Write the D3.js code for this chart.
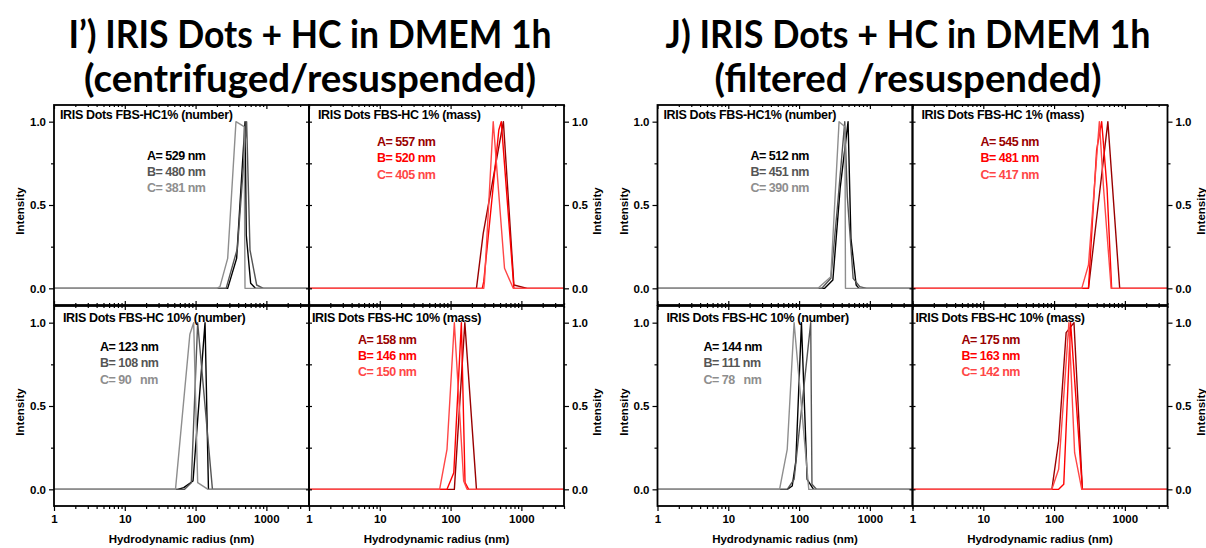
<!DOCTYPE html>
<html>
<head>
<meta charset="utf-8">
<script src="https://cdn.jsdelivr.net/npm/d3@7"></script>
<style>
  body { margin: 0; background: #fff; }
  svg { display: block; }
  .txt { font-family: "Liberation Sans", Arial, sans-serif; font-weight: bold; }
  .big { font-family: Lato, "Open Sans", sans-serif; font-weight: 700; }
</style>
</head>
<body>
<svg id="chart" width="1206" height="548"></svg>
<script>
// ---- axis settings ----
const xDomain = [1, 4000];
const yDomain = [-0.1, 1.1];
const xTicks = [1, 10, 100, 1000];
const xTickLabels = ["1", "10", "100", "1000"];
const yTicks = [0, 0.5, 1.0];
const yMinorTicks = [0.25, 0.75];

// ---- text ----
const titleLinesI = ["I\u2019) IRIS Dots + HC in DMEM 1h", "(centrifuged/resuspended)"];
const titleLinesJ = ["J) IRIS Dots + HC in DMEM 1h", "(filtered /resuspended)"];
const panelTitles = [
  "IRIS Dots FBS-HC1% (number)",
  "IRIS Dots FBS-HC 1% (mass)",
  "IRIS Dots FBS-HC 10% (number)",
  "IRIS Dots FBS-HC 10% (mass)"
];
const seriesKeys = ["A", "B", "C"];
const numberColors = ["#000000", "#555555", "#8e8e8e"];
const massColors = ["#990000", "#ff0000", "#ff4646"];

// mean hydrodynamic radius of each sample (nm)
const sizesCentHC1Number = [529, 480, 381];
const sizesCentHC1Mass = [557, 520, 405];
const sizesCentHC10Number = [123, 108, 90];
const sizesCentHC10Mass = [158, 146, 150];
const sizesFiltHC1Number = [512, 451, 390];
const sizesFiltHC1Mass = [545, 481, 417];
const sizesFiltHC10Number = [144, 111, 78];
const sizesFiltHC10Mass = [175, 163, 142];

// ---- size distributions: [radius nm, normalised intensity] for samples A, B, C ----
const centHC1Number = [
  [[1,0],[284,0],[380,0.18],[500,1.0],[520,0.32],[600,0.03],[700,0],[4000,0]],
  [[1,0],[270,0],[390,0.24],[526,1.0],[587,0.23],[729,0.02],[905,0],[4000,0]],
  [[1,0],[199,0],[221,0.01],[284,0.18],[372,1.0],[485,0.97],[499,0],[4000,0]]
];
const centHC1Mass = [
  [[1,0],[232,0],[289,0.33],[557,1.0],[784,0.02],[1211,0],[4000,0]],
  [[1,0],[280,0],[294,0.04],[480,0.95],[520,1.0],[784,0],[4000,0]],
  [[1,0],[294,0],[301,0.04],[400,1.0],[578,0.12],[767,0],[4000,0]]
];
const centHC10Number = [
  [[1,0],[56,0],[68,0.01],[92,0.05],[136,1.0],[152,0],[4000,0]],
  [[1,0],[70,0],[87,0.04],[107,1.0],[173,0],[4000,0]],
  [[1,0],[52,0],[83,0.93],[94,1.0],[107,0.04],[150,0],[4000,0]]
];
const centHC10Mass = [
  [[1,0],[113,0],[159,1.0],[232,0],[4000,0]],
  [[1,0],[89,0],[111,0.1],[142,1.0],[160,0.04],[180,0],[4000,0]],
  [[1,0],[70,0],[89,0.24],[113,1.0],[153,0.05],[171,0],[4000,0]]
];
const filtHC1Number = [
  [[1,0],[230,0],[300,0.05],[380,0.6],[492,1.0],[540,0.3],[640,0.02],[700,0],[4000,0]],
  [[1,0],[210,0],[281,0.06],[350,0.5],[442,1.0],[480,0.55],[580,0.06],[720,0.01],[895,0],[4000,0]],
  [[1,0],[185,0],[281,0.07],[367,1.0],[445,0.97],[452,0],[4000,0]]
];
const filtHC1Mass = [
  [[1,0],[306,0],[575,1.0],[845,0],[4000,0]],
  [[1,0],[306,0],[399,0.83],[470,1.0],[560,0.6],[650,0],[4000,0]],
  [[1,0],[246,0],[306,0.14],[436,1.0],[500,0.6],[640,0],[4000,0]]
];
const filtHC10Number = [
  [[1,0],[68,0],[80,0.02],[90,0.17],[108,1.0],[130,0.06],[160,0],[4000,0]],
  [[1,0],[68,0],[85,0.06],[146,1.0],[152,0.03],[176,0],[4000,0]],
  [[1,0],[53,0],[68,0.24],[85,1.0],[137,0],[4000,0]]
];
const filtHC10Mass = [
  [[1,0],[93,0],[116,0.29],[148,0.94],[191,1.0],[251,0],[4000,0]],
  [[1,0],[116,0],[137,0.03],[171,1.0],[251,0],[4000,0]],
  [[1,0],[93,0],[116,0.12],[162,1.0],[195,0.22],[246,0],[4000,0]]
];

// ---- layout ----
const svg = d3.select("#chart");
const panelW = 255;
const rowTop = [105, 306];
const panelH = 200;

// per panel position: [row, col]; text offsets inside each panel
const panelSlots = [
  { row: 0, col: 0, titleDx: 6,  annDx: 93, annY: [160, 176, 192] },
  { row: 0, col: 1, titleDx: 9,  annDx: 68, annY: [146, 162, 179] },
  { row: 1, col: 0, titleDx: 9,  annDx: 46, annY: [351, 367, 384] },
  { row: 1, col: 1, titleDx: 3,  annDx: 49, annY: [344, 360, 376] }
];

const blocks = [
  { x0: 54, titles: titleLinesI, titleCx: 310, titleW: [483, 452],
    curves: [centHC1Number, centHC1Mass, centHC10Number, centHC10Mass],
    sizes: [sizesCentHC1Number, sizesCentHC1Mass, sizesCentHC10Number, sizesCentHC10Mass] },
  { x0: 657.5, titles: titleLinesJ, titleCx: 908, titleW: [485, 387],
    curves: [filtHC1Number, filtHC1Mass, filtHC10Number, filtHC10Mass],
    sizes: [sizesFiltHC1Number, sizesFiltHC1Mass, sizesFiltHC10Number, sizesFiltHC10Mass] }
];

const minorX = [];
for (let k = 0; k < 4; k++) for (let m = 2; m <= 9; m++) {
  const v = m * Math.pow(10, k);
  if (v <= xDomain[1]) minorX.push(v);
}

function styleAxis(g) {
  g.select(".domain").remove();
  g.selectAll(".tick line").attr("stroke", "#000").attr("stroke-width", 1.2);
  g.selectAll(".tick text")
    .attr("class", "txt")
    .attr("font-size", 11.5)
    .attr("fill", "#000");
  g.attr("font-family", null).attr("font-size", null);
}

blocks.forEach((block, bi) => {
  const bg = svg.append("g");

  // block heading
  block.titles.forEach((line, li) => {
    bg.append("text")
      .attr("class", "big")
      .attr("x", block.titleCx)
      .attr("y", li === 0 ? 48 : 92)
      .attr("text-anchor", "middle")
      .attr("font-size", 39)
      .attr("textLength", block.titleW[li])
      .attr("lengthAdjust", "spacingAndGlyphs")
      .text(line);
  });

  panelSlots.forEach((slot, pi) => {
    const px = block.x0 + slot.col * panelW;
    const py = rowTop[slot.row];
    const isMass = slot.col === 1;
    const colors = isMass ? massColors : numberColors;

    const x = d3.scaleLog().domain(xDomain).range([px, px + panelW]);
    const y = d3.scaleLinear().domain(yDomain).range([py + panelH, py]);

    const g = bg.append("g");
    const clipId = `clip-${bi}-${pi}`;
    g.append("clipPath").attr("id", clipId)
      .append("rect").attr("x", px).attr("y", py).attr("width", panelW).attr("height", panelH);

    // distribution curves
    const line = d3.line().x(d => x(d[0])).y(d => y(d[1]));
    g.append("g").attr("clip-path", `url(#${clipId})`)
      .selectAll("path")
      .data(block.curves[pi])
      .join("path")
      .attr("d", line)
      .attr("fill", "none")
      .attr("stroke", (d, i) => colors[i])
      .attr("stroke-width", 1.4)
      .attr("stroke-linejoin", "round");

    // frame
    g.append("rect")
      .attr("x", px).attr("y", py).attr("width", panelW).attr("height", panelH)
      .attr("fill", "none").attr("stroke", "#000").attr("stroke-width", 1.8);

    // y axes: labelled side outward, opposite side with inward ticks
    const labelledLeft = slot.col === 0;
    const yMain = (labelledLeft ? d3.axisLeft(y) : d3.axisRight(y))
      .tickValues(yTicks).tickSize(5).tickPadding(3).tickFormat(d3.format(".1f"));
    const yMinor = (labelledLeft ? d3.axisLeft(y) : d3.axisRight(y))
      .tickValues(yMinorTicks).tickSize(3).tickFormat("");
    const yEdge = labelledLeft ? px : px + panelW;
    g.append("g").attr("transform", `translate(${yEdge},0)`).call(yMain).call(styleAxis);
    g.append("g").attr("transform", `translate(${yEdge},0)`).call(yMinor).call(styleAxis);
    const mirrorEdge = labelledLeft ? px + panelW : px;
    const yMirror = (labelledLeft ? d3.axisRight(y) : d3.axisLeft(y))
      .tickValues(yTicks.concat(yMinorTicks)).tickSize(-3).tickFormat("");
    g.append("g").attr("transform", `translate(${mirrorEdge},0)`).call(yMirror).call(styleAxis);

    // x axes
    const isBottom = slot.row === 1;
    const xMain = d3.axisBottom(x).tickValues(xTicks)
      .tickSize(isBottom ? 5 : -4).tickPadding(4)
      .tickFormat((d, i) => isBottom ? xTickLabels[i] : "");
    const xMinor = d3.axisBottom(x).tickValues(minorX)
      .tickSize(isBottom ? 3 : -2).tickFormat("");
    g.append("g").attr("transform", `translate(0,${py + panelH})`).call(xMain).call(styleAxis);
    g.append("g").attr("transform", `translate(0,${py + panelH})`).call(xMinor).call(styleAxis);
    const xTop = d3.axisTop(x).tickValues(xTicks).tickSize(-4).tickFormat("");
    const xTopMinor = d3.axisTop(x).tickValues(minorX).tickSize(-2).tickFormat("");
    g.append("g").attr("transform", `translate(0,${py})`).call(xTop).call(styleAxis);
    g.append("g").attr("transform", `translate(0,${py})`).call(xTopMinor).call(styleAxis);

    // axis titles
    const yLabelX = labelledLeft ? px - 30 : px + panelW + 37;
    const yLabelY = py + panelH / 2 + 6;
    g.append("text").attr("class", "txt")
      .attr("transform", `translate(${yLabelX},${yLabelY}) rotate(-90)`)
      .attr("text-anchor", "middle").attr("font-size", 11.5)
      .text("Intensity");
    if (isBottom) {
      g.append("text").attr("class", "txt")
        .attr("x", px + panelW / 2).attr("y", 543)
        .attr("text-anchor", "middle").attr("font-size", 11.5)
        .text("Hydrodynamic radius (nm)");
    }

    // panel title
    g.append("text").attr("class", "txt")
      .attr("x", px + slot.titleDx).attr("y", py + 14 + (isBottom ? 2 : 0))
      .attr("font-size", 12.5).attr("letter-spacing", -0.35)
      .text(panelTitles[pi]);

    // sample sizes
    block.sizes[pi].forEach((v, i) => {
      const num = v < 100 ? `${v}   ` : `${v} `;
      g.append("text").attr("class", "txt")
        .attr("x", px + slot.annDx).attr("y", slot.annY[i])
        .attr("font-size", 12.5).attr("letter-spacing", -0.5)
        .attr("fill", colors[i])
        .style("white-space", "pre")
        .text(`${seriesKeys[i]}= ${num}nm`);
    });
  });
});
</script>
</body>
</html>
